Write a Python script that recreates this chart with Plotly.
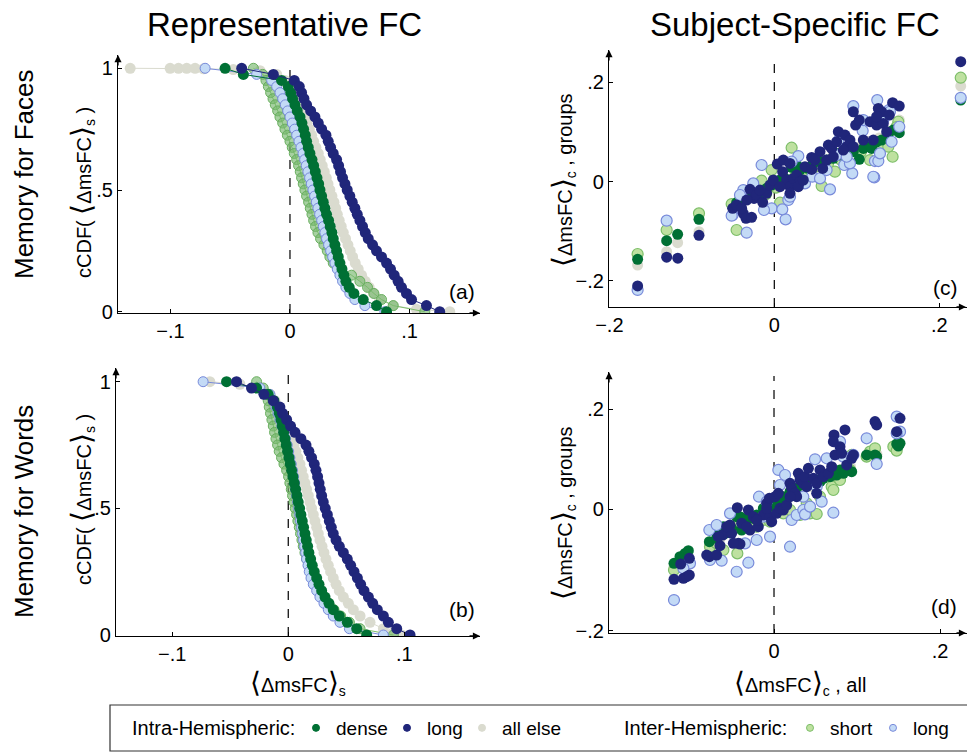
import plotly.graph_objects as go

FONT = "Liberation Sans, Arial, Helvetica, sans-serif"
W, H = 967, 755

# ---------------- colours ----------------
C_DENSE = "rgb(0,112,52)"
C_LONG = "rgb(32,38,122)"
C_ELSE = "rgb(218,219,207)"
C_SHORT_FILL = "rgb(190,225,160)"
C_SHORT_EDGE = "rgb(125,190,105)"
C_ILONG_FILL = "rgb(195,218,246)"
C_ILONG_EDGE = "rgb(120,138,218)"

# ---------------- panel (a) & (b): cCDF levels ----------------
ccdf_levels = [1.0, 0.975, 0.95, 0.925, 0.9, 0.875, 0.85, 0.825, 0.8, 0.775, 0.75,
               0.725, 0.7, 0.675, 0.65, 0.625, 0.6, 0.575, 0.55, 0.525, 0.5,
               0.475, 0.45, 0.425, 0.4, 0.375, 0.35, 0.325, 0.3, 0.275, 0.25,
               0.225, 0.2, 0.175, 0.15, 0.125, 0.1, 0.075, 0.05, 0.025, 0.0]

# (a) Memory for Faces, representative FC
a_long_x = [-0.0404, -0.0139, 0.0036, 0.0078, 0.0097, 0.0117, 0.0139, 0.0173, 0.0209, 0.0237,
            0.0265, 0.0301, 0.0320, 0.0340, 0.0362, 0.0390, 0.0407, 0.0423, 0.0440, 0.0460,
            0.0479, 0.0501, 0.0521, 0.0543, 0.0563, 0.0585, 0.0607, 0.0630, 0.0655, 0.0691,
            0.0724, 0.0766, 0.0808, 0.0841, 0.0872, 0.0905, 0.0933, 0.0975, 0.1017, 0.1142, 0.1253]
a_dense_x = [-0.0543, -0.0390, -0.0070, -0.0014, 0.0006, 0.0022, 0.0042, 0.0061, 0.0084, 0.0100,
             0.0114, 0.0128, 0.0139, 0.0153, 0.0167, 0.0184, 0.0198, 0.0212, 0.0226, 0.0240,
             0.0251, 0.0265, 0.0279, 0.0292, 0.0306, 0.0323, 0.0337, 0.0351, 0.0362, 0.0376,
             0.0390, 0.0404, 0.0418, 0.0435, 0.0451, 0.0468, 0.0496, 0.0535, 0.0613, 0.0724, 0.0808]
a_short_x = [-0.0306, -0.0228, -0.0201, -0.0181, -0.0162, -0.0142, -0.0123, -0.0103, -0.0084, -0.0061,
             -0.0042, -0.0022, 0.0000, 0.0019, 0.0036, 0.0056, 0.0072, 0.0086, 0.0097, 0.0111,
             0.0125, 0.0139, 0.0156, 0.0170, 0.0184, 0.0198, 0.0214, 0.0234, 0.0256, 0.0284,
             0.0312, 0.0334, 0.0362, 0.0432, 0.0515, 0.0585, 0.0649, 0.0702, 0.0766, 0.0864, 0.1128]
a_ilong_x = [-0.0710, -0.0279, -0.0153, -0.0111, -0.0084, -0.0061, -0.0039, -0.0019, 0.0000, 0.0019,
             0.0039, 0.0056, 0.0075, 0.0092, 0.0109, 0.0123, 0.0136, 0.0150, 0.0164, 0.0178,
             0.0192, 0.0206, 0.0220, 0.0234, 0.0248, 0.0265, 0.0279, 0.0292, 0.0306, 0.0323,
             0.0340, 0.0357, 0.0376, 0.0396, 0.0418, 0.0440, 0.0468, 0.0501, 0.0543, 0.0627, 0.0794]
a_else_x = [-0.1337, -0.1003, -0.0933, -0.0864, -0.0794, -0.0724, -0.0474, -0.0251, -0.0111, -0.0042,
            0.0000, 0.0033, 0.0061, 0.0084, 0.0103, 0.0123, 0.0142, 0.0162, 0.0181, 0.0198,
            0.0217, 0.0237, 0.0253, 0.0270, 0.0287, 0.0304, 0.0318, 0.0334, 0.0351, 0.0368,
            0.0382, 0.0396, 0.0412, 0.0429, 0.0446, 0.0465, 0.0485, 0.0504, 0.0524, 0.0546,
            0.0571, 0.0599, 0.0630, 0.0663, 0.0702, 0.0752, 0.0864, 0.1058, 0.1337]
a_else_y = [1.0, 1.0, 1.0, 1.0, 1.0, 0.998, 0.995, 0.99, 0.975, 0.95,
            0.925, 0.9, 0.875, 0.85, 0.825, 0.8, 0.775, 0.75, 0.725, 0.7,
            0.675, 0.65, 0.625, 0.6, 0.575, 0.55, 0.525, 0.5, 0.475, 0.45,
            0.425, 0.4, 0.375, 0.35, 0.325, 0.3, 0.275, 0.25, 0.225, 0.2,
            0.175, 0.15, 0.125, 0.1, 0.075, 0.05, 0.025, 0.01, 0.0]

# (b) Memory for Words, representative FC
b_long_x = [-0.0446, -0.0317, -0.0210, -0.0129, -0.0072, -0.0049, -0.0014, 0.0020, 0.0058, 0.0109,
            0.0153, 0.0178, 0.0201, 0.0224, 0.0239, 0.0253, 0.0265, 0.0276, 0.0288, 0.0302,
            0.0319, 0.0337, 0.0354, 0.0371, 0.0388, 0.0412, 0.0440, 0.0475, 0.0509, 0.0538,
            0.0567, 0.0596, 0.0624, 0.0653, 0.0691, 0.0728, 0.0768, 0.0820, 0.0863, 0.0935, 0.1050]
b_dense_x = [-0.0532, -0.0273, -0.0173, -0.0124, -0.0095, -0.0078, -0.0063, -0.0052, -0.0040, -0.0029,
             -0.0017, -0.0006, 0.0006, 0.0017, 0.0029, 0.0040, 0.0052, 0.0063, 0.0075, 0.0086,
             0.0098, 0.0109, 0.0121, 0.0132, 0.0144, 0.0155, 0.0167, 0.0178, 0.0193, 0.0207,
             0.0224, 0.0245, 0.0265, 0.0288, 0.0317, 0.0351, 0.0388, 0.0440, 0.0509, 0.0590, 0.0676]
b_short_x = [-0.0273, -0.0216, -0.0187, -0.0173, -0.0164, -0.0153, -0.0141, -0.0129, -0.0118, -0.0106,
             -0.0092, -0.0078, -0.0058, -0.0037, -0.0014, 0.0003, 0.0014, 0.0026, 0.0037, 0.0049,
             0.0060, 0.0072, 0.0083, 0.0095, 0.0106, 0.0118, 0.0129, 0.0144, 0.0158, 0.0176,
             0.0196, 0.0219, 0.0245, 0.0273, 0.0308, 0.0348, 0.0394, 0.0452, 0.0527, 0.0619, 0.0906]
b_ilong_x = [-0.0734, -0.0245, -0.0158, -0.0129, -0.0106, -0.0089, -0.0072, -0.0055, -0.0037, -0.0023,
             -0.0009, 0.0003, 0.0014, 0.0026, 0.0037, 0.0046, 0.0055, 0.0063, 0.0072, 0.0081,
             0.0089, 0.0098, 0.0106, 0.0115, 0.0124, 0.0132, 0.0141, 0.0150, 0.0158, 0.0170,
             0.0181, 0.0196, 0.0216, 0.0245, 0.0273, 0.0308, 0.0345, 0.0388, 0.0446, 0.0527, 0.0820]
b_else_x = [-0.0676, -0.0417, -0.0245, -0.0158, -0.0115, -0.0086, -0.0058, -0.0035, -0.0012, 0.0009,
            0.0029, 0.0049, 0.0066, 0.0083, 0.0101, 0.0115, 0.0129, 0.0144, 0.0158, 0.0173,
            0.0187, 0.0201, 0.0216, 0.0230, 0.0245, 0.0259, 0.0273, 0.0291, 0.0308, 0.0325,
            0.0345, 0.0365, 0.0388, 0.0412, 0.0440, 0.0475, 0.0518, 0.0561, 0.0619, 0.0705,
            0.0820, 0.0906, 0.0978]
b_else_y = [1.0, 0.99, 0.975, 0.95, 0.925, 0.9, 0.875, 0.85, 0.825, 0.8,
            0.775, 0.75, 0.725, 0.7, 0.675, 0.65, 0.625, 0.6, 0.575, 0.55,
            0.525, 0.5, 0.475, 0.45, 0.425, 0.4, 0.375, 0.35, 0.325, 0.3,
            0.275, 0.25, 0.225, 0.2, 0.175, 0.15, 0.125, 0.1, 0.075, 0.05,
            0.025, 0.01, 0.0]

# ---------------- panel (c): Faces, subject-specific ----------------
c_long_x = [-0.1657, -0.1305, -0.1170, -0.0913, -0.0505, -0.0457, -0.0376, -0.0343, -0.0275, -0.0295,
            -0.0246, -0.0214, -0.0141, -0.0093, -0.0053, -0.0012, 0.0036, 0.0109, 0.0101, 0.0149,
            0.0190, 0.0190, 0.0230, 0.0271, 0.0311, 0.0291, 0.0372, 0.0453, 0.0453, 0.0554,
            0.0586, 0.0634, 0.0655, 0.0695, 0.0756, 0.0776, 0.0857, 0.0877, 0.0917, 0.0958,
            0.0958, 0.0986, 0.1030, 0.1079, 0.1160, 0.1200, 0.1240, 0.1261, 0.1301, 0.1321,
            0.1394, 0.1362, 0.1434, 0.1515, 0.1240, 0.0715, 0.0836, 0.0069, -0.0335, -0.0396,
            -0.0174, 0.0190, 0.0352, 0.0493, 0.2260]
c_long_y = [-0.2100, -0.1520, -0.1540, -0.1080, -0.0537, -0.0470, -0.0638, -0.0738, -0.0718, -0.0154,
            -0.0336, -0.0268, -0.0416, -0.0235, -0.0067, 0.0034, 0.0356, 0.0436, 0.0201, 0.0034,
            -0.0101, -0.0235, 0.0067, 0.0134, 0.0000, -0.0101, 0.0302, 0.0490, 0.0248, 0.0604,
            0.0268, 0.0436, 0.0738, 0.0671, 0.0805, 0.1007, 0.0940, 0.0705, 0.0839, 0.1409,
            0.0705, 0.1141, 0.1242, 0.0839, 0.1208, 0.0839, 0.1141, 0.1477, 0.1409, 0.1174,
            0.1342, 0.1007, 0.1591, 0.1523, 0.1309, 0.0503, 0.0638, -0.0101, -0.0369, -0.0537,
            -0.0168, 0.0369, 0.0034, 0.0436, 0.2417]
c_dense_x = [-0.1657, -0.1305, -0.1172, -0.0913, -0.0457, -0.0356, -0.0275, -0.0214, -0.0154, -0.0093,
             -0.0032, 0.0069, 0.0129, 0.0210, 0.0311, 0.0412, 0.0473, 0.0574, 0.0634, 0.0715,
             0.0796, 0.0877, 0.0958, 0.1030, 0.1079, 0.1160, 0.1240, 0.1301, 0.1382, 0.1442,
             0.1515, 0.1180, -0.0376, 0.0271, 0.0756, 0.2260]
c_dense_y = [-0.1564, -0.1188, -0.1060, -0.0758, -0.0423, -0.0302, -0.0201, -0.0201, -0.0235, -0.0134,
             -0.0067, 0.0034, 0.0067, 0.0289, 0.0235, 0.0268, 0.0369, 0.0403, 0.0436, 0.0470,
             0.0537, 0.0570, 0.0604, 0.0450, 0.0671, 0.0705, 0.0805, 0.0839, 0.0973, 0.1040,
             0.0987, 0.0671, -0.0369, 0.0336, 0.0570, 0.1646]
c_short_x = [-0.1657, -0.1305, -0.0913, -0.0457, -0.0517, -0.0420, -0.0300, -0.0240, -0.0154, -0.0100,
             -0.0032, 0.0020, 0.0069, 0.0120, 0.0210, 0.0250, 0.0330, 0.0420, 0.0500, 0.0574,
             0.0650, 0.0735, 0.0800, 0.0880, 0.0960, 0.1050, 0.1160, 0.1250, 0.1300, 0.1382,
             0.1434, 0.1503, 0.1480, 0.2260]
c_short_y = [-0.1456, -0.0973, -0.0638, -0.0973, -0.0450, -0.0380, -0.0300, -0.0200, 0.0020, -0.0250,
             0.0235, -0.0120, -0.0423, 0.0050, 0.0685, 0.0100, 0.0150, 0.0250, 0.0300, -0.0087,
             0.0350, 0.0201, 0.0450, 0.0550, 0.0650, 0.0600, 0.0436, 0.0800, 0.0750, 0.0705,
             0.0503, 0.1208, 0.1100, 0.2095]
c_ilong_x = [-0.1657, -0.1305, -0.0154, 0.0291, 0.0210, -0.0505, -0.0335, 0.0137, -0.0032, 0.0097,
             -0.0125, 0.0170, 0.0372, 0.0461, 0.0554, 0.0675, 0.0848, 0.0945, 0.0917, 0.0958,
             0.1071, 0.1212, 0.1220, 0.1261, 0.1281, 0.1248, 0.1390, 0.1422, 0.1515, -0.0376,
             -0.0255, 0.0190, 0.0756, 0.0776, 0.1079, 0.0634, 0.0877, 0.1321, -0.0416, 0.1402,
             -0.0517, 0.1200, 0.2260]
c_ilong_y = [-0.2181, -0.0785, 0.0336, 0.0517, 0.0403, -0.0671, -0.1027, -0.0758, -0.0537, -0.0557,
             -0.0570, -0.0369, -0.0034, 0.0101, 0.0067, -0.0154, 0.0336, 0.0168, 0.0369, 0.1523,
             0.1027, 0.0087, 0.0416, 0.0416, 0.0570, 0.1644, 0.1443, 0.0805, 0.1107, -0.0168,
             -0.0034, -0.0302, 0.0537, 0.0826, 0.1242, 0.0235, 0.0503, 0.1242, -0.0268, 0.1409,
             -0.0685, 0.0100, 0.1690]
c_else_x = [-0.1657, -0.1305, -0.1172, -0.0913, -0.0480, -0.0410, -0.0320, -0.0190, -0.0080, 0.0030,
            0.0140, 0.0260, 0.0390, 0.0480, 0.0610, 0.0700, 0.0830, 0.0920, 0.1040, 0.1130,
            0.1270, 0.1380, 0.1515, 0.2260]
c_else_y = [-0.1678, -0.1409, -0.1228, -0.1007, -0.0460, -0.0330, -0.0290, -0.0160, -0.0110, 0.0010,
            0.0040, 0.0160, 0.0220, 0.0310, 0.0380, 0.0490, 0.0540, 0.0660, 0.0700, 0.0810,
            0.0880, 0.1010, 0.1242, 0.1927]

# ---------------- panel (d): Words, subject-specific ----------------
d_long_x = [-0.1205, -0.1092, -0.1052, -0.1020, -0.1124, -0.1020, -0.0779, -0.0691, -0.0651, -0.0618,
            -0.0530, -0.0510, -0.0430, -0.0410, -0.0442, -0.0390, -0.0309, -0.0289, -0.0249, -0.0189,
            -0.0129, -0.0088, -0.0056, -0.0048, -0.0028, 0.0012, 0.0052, 0.0032, 0.0072, 0.0112,
            0.0153, 0.0193, 0.0213, 0.0253, 0.0293, 0.0313, 0.0353, 0.0373, 0.0394, 0.0414,
            0.0474, 0.0514, 0.0554, 0.0594, 0.0655, 0.0695, 0.0735, 0.0723, 0.0715, 0.0795,
            0.0815, 0.0855, 0.0876, 0.0936, 0.0956, 0.1217, 0.1237, 0.1478, 0.1518, 0.0514,
            0.0273, 0.0193, -0.0088, -0.0209, -0.0329, -0.0570, -0.0671, -0.0811, -0.0490]
d_long_y = [-0.1411, -0.1391, -0.1358, -0.1324, -0.1104, -0.0990, -0.0957, -0.0923, -0.0736, -0.0522,
            -0.0321, -0.0488, -0.0689, -0.0702, 0.0027, -0.0288, -0.0020, -0.0421, -0.0154, -0.0355,
            -0.0120, 0.0114, 0.0214, -0.0154, -0.0254, 0.0247, 0.0314, -0.0087, 0.0013, -0.0020,
            0.0080, 0.0515, 0.0415, 0.0314, 0.0716, 0.0582, 0.0515, 0.0649, 0.0448, 0.0816,
            0.0615, 0.0515, 0.0783, 0.0649, 0.0716, 0.0849, 0.1084, 0.1485, 0.1351, 0.1251,
            0.1117, 0.1585, 0.0883, 0.1017, 0.1084, 0.1753, 0.1686, 0.1552, 0.1819, 0.0314,
            0.0247, 0.0247, 0.0013, -0.0221, -0.0355, -0.0355, -0.0555, -0.0923, -0.0689]
d_dense_x = [-0.1205, -0.1133, -0.1072, -0.1032, -0.0779, -0.0691, -0.0651, -0.0610, -0.0450, -0.0410,
             -0.0329, -0.0289, -0.0209, -0.0129, -0.0048, 0.0032, 0.0112, 0.0193, 0.0273, 0.0353,
             0.0434, 0.0514, 0.0594, 0.0675, 0.0755, 0.0795, 0.0876, 0.0936, 0.1116, 0.1217,
             0.1237, 0.1478, 0.1518, 0.1498, -0.0691, -0.0590, -0.0510, -0.0390, -0.0249, -0.0088,
             0.0072, 0.0233, 0.0394, 0.0554, 0.0715, 0.0835]
d_dense_y = [-0.1090, -0.0957, -0.0890, -0.0836, -0.0656, -0.0488, -0.0421, -0.0355, -0.0154, -0.0154,
             -0.0187, -0.0154, -0.0120, 0.0013, 0.0047, 0.0147, 0.0247, 0.0348, 0.0415, 0.0482,
             0.0548, 0.0582, 0.0615, 0.0649, 0.0682, 0.0783, 0.0849, 0.0749, 0.1084, 0.1084,
             0.1050, 0.1304, 0.1318, 0.1264, -0.0589, -0.0488, -0.0388, -0.0421, -0.0187, -0.0154,
             0.0181, 0.0281, 0.0515, 0.0548, 0.0716, 0.0716]
d_short_x = [-0.1205, -0.1092, -0.0771, -0.0691, -0.0610, -0.0442, -0.0450, -0.0289, -0.0209, -0.0129,
             -0.0048, 0.0112, 0.0193, 0.0313, 0.0394, 0.0434, 0.0514, 0.0554, 0.0695, 0.0715,
             0.0795, 0.0916, 0.0936, 0.1116, 0.1157, 0.1217, 0.1438, 0.1478]
d_short_y = [-0.1224, -0.1157, -0.0756, -0.0689, -0.0823, -0.0890, -0.0355, -0.0288, -0.0355, -0.0221,
             -0.0254, -0.0087, -0.0020, -0.0120, 0.0114, -0.0087, -0.0100, 0.0247, 0.0448, 0.0381,
             0.0582, 0.0783, 0.1084, 0.1050, 0.1150, 0.1217, 0.1251, 0.1171]
d_ilong_x = [-0.1205, -0.1012, -0.1092, -0.0779, -0.0691, -0.0631, -0.0450, -0.0309, -0.0349, -0.0209,
             -0.0181, -0.0088, 0.0052, 0.0133, 0.0072, 0.0193, 0.0213, 0.0273, 0.0353, 0.0373,
             0.0434, 0.0494, 0.0574, 0.0635, 0.0715, 0.0795, 0.0835, 0.0956, 0.1116, 0.1237,
             0.1478, 0.1518, 0.1478, -0.0048, -0.0129, -0.0530, -0.0771, 0.0514, 0.0353]
d_ilong_y = [-0.1826, -0.1090, -0.1191, -0.0421, -0.0321, -0.1037, -0.1258, -0.1077, -0.0689, -0.0622,
             0.0247, 0.0147, 0.0783, 0.0682, 0.0482, -0.0756, -0.0221, -0.0120, -0.0020, -0.0107,
             0.0047, 0.0997, 0.0147, 0.1017, -0.0074, 0.1351, 0.1050, 0.1084, 0.1418, 0.0903,
             0.1853, 0.1552, 0.1518, -0.0555, -0.0154, -0.0087, -0.1023, 0.0448, 0.0247]
d_else_x = [-0.1205, -0.1050, -0.0779, -0.0650, -0.0520, -0.0380, -0.0250, -0.0100, 0.0020, 0.0150,
            0.0290, 0.0420, 0.0560, 0.0680, 0.0800, 0.0920, 0.1180, 0.1240, 0.1498, 0.1518]
d_else_y = [-0.1150, -0.0930, -0.0756, -0.0600, -0.0420, -0.0300, -0.0200, -0.0080, 0.0060, 0.0190,
            0.0300, 0.0450, 0.0560, 0.0650, 0.0780, 0.0860, 0.1150, 0.1100, 0.1290, 0.1552]

# ---------------- tick labels ----------------
ccdf_xticks = [-0.1, 0.0, 0.1]
ccdf_xtext = ["\u2212.1", "0", ".1"]
ccdf_yticks = [0.0, 0.5, 1.0]
ccdf_ytext = ["0", ".5", "1"]
sc_xticks = [-0.2, 0.0, 0.2]
sc_xtext = ["\u2212.2", "0", ".2"]
c_yticks = [-0.2, 0.0, 0.2]
d_yticks = [-0.244, 0.0, 0.2]
sc_ytext = ["\u2212.2", "0", ".2"]

fig = go.Figure()

STY = {
    "else": dict(size=11, color=C_ELSE, line=dict(width=0)),
    "short": dict(size=10, color="rgba(120,185,110,0.65)", line=dict(width=1, color="rgb(105,175,95)")),
    "ilong": dict(size=10, color=C_ILONG_FILL, line=dict(width=1, color=C_ILONG_EDGE)),
    "dense": dict(size=11, color=C_DENSE, line=dict(width=0)),
    "long": dict(size=11, color=C_LONG, line=dict(width=0)),
}
LINE_COL = {"else": C_ELSE, "short": C_SHORT_EDGE, "ilong": C_ILONG_EDGE,
            "dense": C_DENSE, "long": C_LONG}

SC_STY = {
    "else": dict(size=11, color=C_ELSE, line=dict(width=0)),
    "short": dict(size=11, color=C_SHORT_FILL, line=dict(width=1.2, color=C_SHORT_EDGE)),
    "dense": dict(size=11, color=C_DENSE, line=dict(width=0)),
    "ilong": dict(size=11, color=C_ILONG_FILL, line=dict(width=1.2, color=C_ILONG_EDGE)),
    "long": dict(size=11, color=C_LONG, line=dict(width=0)),
}


def ccdf(key, x, y, xa, ya):
    fig.add_trace(go.Scatter(x=x, y=y, xaxis=xa, yaxis=ya, mode="lines+markers",
                             marker=STY[key], line=dict(color=LINE_COL[key], width=1),
                             showlegend=False, hoverinfo="skip"))


def scat(key, x, y, xa, ya):
    fig.add_trace(go.Scatter(x=x, y=y, xaxis=xa, yaxis=ya, mode="markers",
                             marker=SC_STY[key], showlegend=False, hoverinfo="skip"))


# panel (a)
ccdf("else", a_else_x, a_else_y, "x", "y")
ccdf("short", a_short_x, ccdf_levels, "x", "y")
ccdf("ilong", a_ilong_x, ccdf_levels, "x", "y")
ccdf("dense", a_dense_x, ccdf_levels, "x", "y")
ccdf("long", a_long_x, ccdf_levels, "x", "y")
# panel (b)
ccdf("else", b_else_x, b_else_y, "x2", "y2")
ccdf("short", b_short_x, ccdf_levels, "x2", "y2")
ccdf("ilong", b_ilong_x, ccdf_levels, "x2", "y2")
ccdf("dense", b_dense_x, ccdf_levels, "x2", "y2")
ccdf("long", b_long_x, ccdf_levels, "x2", "y2")
# panel (c)
scat("else", c_else_x, c_else_y, "x3", "y3")
scat("short", c_short_x, c_short_y, "x3", "y3")
scat("dense", c_dense_x, c_dense_y, "x3", "y3")
scat("ilong", c_ilong_x, c_ilong_y, "x3", "y3")
scat("long", c_long_x, c_long_y, "x3", "y3")
# panel (d)
scat("else", d_else_x, d_else_y, "x4", "y4")
scat("short", d_short_x, d_short_y, "x4", "y4")
scat("dense", d_dense_x, d_dense_y, "x4", "y4")
scat("ilong", d_ilong_x, d_ilong_y, "x4", "y4")
scat("long", d_long_x, d_long_y, "x4", "y4")


def px(v):
    return v / W


def py(v):
    return 1 - v / H


# legend entries: one small legend per entry so each sits where the reference has it
legend_names = ["dense", "long", "all else", "short", "long"]
legend_fill = [C_DENSE, C_LONG, C_ELSE, C_SHORT_FILL, C_ILONG_FILL]
legend_edge = [C_DENSE, C_LONG, C_ELSE, C_SHORT_EDGE, C_ILONG_EDGE]
legend_ids = ["legend", "legend2", "legend3", "legend4", "legend5"]
legend_symbol_px = [316, 407, 482, 810, 893]

legfont = dict(family=FONT, size=19, color="black")
legend_layout = {}
for name, fc, ec, lid, sx in zip(legend_names, legend_fill, legend_edge, legend_ids, legend_symbol_px):
    fig.add_trace(go.Scatter(x=[None], y=[None], mode="markers", name=name, legend=lid,
                             marker=dict(size=7, color=fc, line=dict(width=1, color=ec)),
                             showlegend=True))
    legend_layout[lid] = dict(orientation="h", x=px(sx - 20), y=py(728), xanchor="left",
                              yanchor="middle", font=legfont, bgcolor="rgba(0,0,0,0)",
                              itemwidth=30, tracegroupgap=0)

tickfont = dict(family=FONT, size=20, color="black")
axcommon = dict(showline=True, linecolor="black", linewidth=1.3, ticks="inside", ticklen=4,
                tickcolor="black", showgrid=False, zeroline=False, tickfont=tickfont, mirror=False,
                automargin=False)

# panel boxes in pixels: (left, right, top, bottom)
PA = (118, 480, 55, 313)
PB = (116, 480, 368, 636)
PC = (609, 967, 50, 307)
PD = (609, 967, 372, 633)

fig.update_layout(
    xaxis=dict(domain=[px(PA[0]), px(PA[1])], range=[-0.1439, 0.1590], anchor="y",
               tickvals=ccdf_xticks, ticktext=ccdf_xtext, **axcommon),
    yaxis=dict(domain=[py(PA[3]), py(PA[2])], range=[-0.0053, 1.0546], anchor="x",
               tickvals=ccdf_yticks, ticktext=ccdf_ytext, **axcommon),
    xaxis2=dict(domain=[px(PB[0]), px(PB[1])], range=[-0.1485, 0.1653], anchor="y2",
                tickvals=ccdf_xticks, ticktext=ccdf_xtext, **axcommon),
    yaxis2=dict(domain=[py(PB[3]), py(PB[2])], range=[-0.0039, 1.0541], anchor="x2",
                tickvals=ccdf_yticks, ticktext=ccdf_ytext, **axcommon),
    xaxis3=dict(domain=[px(PC[0]), px(PC[1])], range=[-0.2004, 0.2336], anchor="y3",
                tickvals=sc_xticks, ticktext=sc_xtext, **axcommon),
    yaxis3=dict(domain=[py(PC[3]), py(PC[2])], range=[-0.2524, 0.2653], anchor="x3",
                tickvals=c_yticks, ticktext=sc_ytext, **axcommon),
    xaxis4=dict(domain=[px(PD[0]), px(PD[1])], range=[-0.1988, 0.2325], anchor="y4",
                tickvals=sc_xticks, ticktext=sc_xtext, **axcommon),
    yaxis4=dict(domain=[py(PD[3]), py(PD[2])], range=[-0.2487, 0.2748], anchor="x4",
                tickvals=d_yticks, ticktext=sc_ytext, **axcommon),
)

shapes = []
for xa, ya, top in (("x", "y", 0.969), ("x2", "y2", 0.98), ("x3", "y3", 0.973), ("x4", "y4", 0.985)):
    shapes.append(dict(type="line", xref=xa, yref=ya + " domain", x0=0, x1=0, y0=0, y1=top,
                       line=dict(color="black", width=1.2, dash="dash"), layer="below"))
# legend frame
shapes.append(dict(type="rect", xref="paper", yref="paper", x0=px(110), x1=px(975),
                   y0=py(751), y1=py(705), line=dict(color="#333333", width=1.2)))

ann = []
# axis arrow heads
for (l, r, t, b) in (PA, PB, PC, PD):
    ann.append(dict(xref="paper", yref="paper", x=px(r), y=py(b), ax=-12, ay=0, text="",
                    showarrow=True, arrowhead=2, arrowsize=1.1, arrowwidth=1.3, arrowcolor="black"))
    ann.append(dict(xref="paper", yref="paper", x=px(l), y=py(t), ax=0, ay=12, text="",
                    showarrow=True, arrowhead=2, arrowsize=1.1, arrowwidth=1.3, arrowcolor="black"))


def text(s, x, y, size, angle=0, xanchor="center", yanchor="middle"):
    ann.append(dict(xref="paper", yref="paper", x=px(x), y=py(y), text=s, showarrow=False,
                    textangle=angle, xanchor=xanchor, yanchor=yanchor,
                    font=dict(family=FONT, size=size, color="black")))


text("Representative FC", 284, 24, 33)
text("Subject-Specific FC", 795, 24, 33)
text("Memory for Faces", 24, 174, 26, angle=-90)
text("Memory for Words", 24, 512, 26, angle=-90)

BR_L = "<span style='font-size:28px'>\u27e8</span>"
BR_R = "<span style='font-size:28px'>\u27e9</span>"
ccdf_title = "cCDF( " + BR_L + "\u0394msFC" + BR_R + "<sub>s</sub> )"
text(ccdf_title, 82, 193, 20, angle=-90)
text(ccdf_title, 82, 500, 20, angle=-90)
sc_title = BR_L + "\u0394msFC" + BR_R + "<sub>c</sub> , groups"
text(sc_title, 563, 180, 20, angle=-90)
text(sc_title, 563, 513, 20, angle=-90)
text(BR_L + "\u0394msFC" + BR_R + "<sub>s</sub>", 298, 683, 20)
text(BR_L + "\u0394msFC" + BR_R + "<sub>c</sub> , all", 800, 683, 20)

text("(a)", 462, 291, 21)
text("(b)", 462, 609, 21)
text("(c)", 945, 287, 21)
text("(d)", 944, 606, 21)

# legend group titles
text("Intra-Hemispheric:", 130, 728, 20, xanchor="left")
text("Inter-Hemispheric:", 622, 728, 20, xanchor="left")

fig.update_layout(
    width=W, height=H, margin=dict(l=0, r=0, t=0, b=0, autoexpand=False),
    paper_bgcolor="white", plot_bgcolor="white",
    shapes=shapes, annotations=ann, **legend_layout,
)

fig.write_html("out.html", config={"displayModeBar": False},
               post_script="document.body.style.margin='0';")
